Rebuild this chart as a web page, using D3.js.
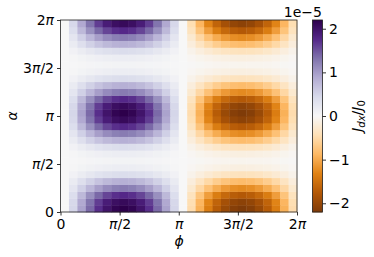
<!doctype html>
<html>
  <head>
    <meta charset="utf-8">
    <title>J_dx map</title>
    <script src="https://d3js.org/d3.v7.min.js"></script>
    <style>
      html, body { margin: 0; padding: 0; background: #fff; }
      svg { display: block; }
      text { font-family: "DejaVu Sans", sans-serif; fill: #000; }
    </style>
  </head>
  <body>
  <div id="chart"></div>
  <script>
    // the map reads as a phi profile times an alpha profile, so both were read off the picture
    // value along phi at the strongest alpha row, in units of 1e-5
    var phiValues = [0, .48, .94, 1.37, 1.72, 1.98, 2.14, 2.2, 2.14, 1.98, 1.72, 1.37, .94, .48,
                     0, -.48, -.94, -1.37, -1.72, -1.98, -2.14, -2.2, -2.14, -1.98, -1.72, -1.37, -.94, -.48];
    // share of that value per alpha row, bottom row first
    var alphaShare = [1, .95, .8, .57, .38, .18, .07, .03, .07, .18, .38, .57, .8, .95,
                      1, .95, .8, .57, .38, .18, .07, .03, .07, .18, .38, .57, .8, .95];
    var angleTicks = [0, .5, 1, 1.5, 2];
    var angleLabels = ["0", "π/2", "π", "3π/2", "2π"];
    var barTicks = [-2, -1, 0, 1, 2];
    var barLabels = ["−2", "−1", "0", "1", "2"];
    var puOr = ["#7f3b08","#b35806","#e08214","#fdb863","#fee0b6","#f7f7f7","#d8daeb","#b2abd2","#8073ac","#542788","#2d004b"];

    var plotLeft = 60.5, plotRight = 297, plotTop = 20, plotBottom = 212;
    var barLeft = 312.5, barRight = 322.5, limit = 2.2, fontSize = 14;

    var svg = d3.select("#chart").append("svg").attr("width", 374).attr("height", 257);

    var x = d3.scaleBand().domain(d3.range(phiValues.length)).range([plotLeft, plotRight]);
    var y = d3.scaleBand().domain(d3.range(alphaShare.length)).range([plotBottom, plotTop]);
    var xAngle = d3.scaleLinear().domain([0, 2]).range([plotLeft, plotRight]);
    var yAngle = d3.scaleLinear().domain([0, 2]).range([plotBottom, plotTop]);
    var yBar = d3.scaleLinear().domain([-limit, limit]).range([plotBottom, plotTop]);
    var color = d3.scaleLinear()
      .domain(puOr.map(function(d, i){ return -limit + i * 2 * limit / (puOr.length - 1); }))
      .range(puOr);

    // cells
    alphaShare.forEach(function(share, row){
      svg.append("g").selectAll("rect")
        .data(phiValues)
        .enter().append("rect")
          .attr("x", function(d, i){ return x(i); })
          .attr("y", y(row))
          .attr("width", x.bandwidth() + .4)
          .attr("height", y.bandwidth() + .4)
          .attr("fill", function(d){ return color(d * share); });
    });

    // colorbar
    var barSteps = d3.range(0, 192);
    svg.append("g").selectAll("rect")
      .data(barSteps)
      .enter().append("rect")
        .attr("x", barLeft)
        .attr("y", function(d){ return plotTop + d; })
        .attr("width", barRight - barLeft)
        .attr("height", 1.4)
        .attr("fill", function(d){ return color(yBar.invert(plotTop + d + .5)); });

    function mathLabel(sel, labels){
      sel.selectAll(".tick text").each(function(d, i){
        var t = d3.select(this).text(null);
        labels[i].split(/(π)/).forEach(function(part){
          if (!part) return;
          t.append("tspan").style("font-style", part == "π" ? "italic" : "normal").text(part);
        });
      });
    }

    function styleAxis(g){
      g.select(".domain").remove();
      g.selectAll(".tick line").attr("stroke", "#000").attr("stroke-width", .8);
      g.selectAll(".tick text").attr("font-size", fontSize).attr("font-family", "DejaVu Sans");
    }

    var xAxis = svg.append("g")
      .attr("transform", "translate(0," + plotBottom + ")")
      .call(d3.axisBottom(xAngle).tickValues(angleTicks).tickSize(3.5).tickPadding(3.5).tickFormat(function(d, i){ return angleLabels[i]; }))
      .call(styleAxis)
      .call(mathLabel, angleLabels);

    var yAxis = svg.append("g")
      .attr("transform", "translate(" + plotLeft + ",0)")
      .call(d3.axisLeft(yAngle).tickValues(angleTicks).tickSize(3.5).tickPadding(3).tickFormat(function(d, i){ return angleLabels[i]; }))
      .call(styleAxis)
      .call(mathLabel, angleLabels);

    var barAxis = svg.append("g")
      .attr("transform", "translate(" + barRight + ",0)")
      .call(d3.axisRight(yBar).tickValues(barTicks).tickSize(3.5).tickPadding(3).tickFormat(function(d, i){ return barLabels[i]; }))
      .call(styleAxis);

    // frames
    svg.append("rect").attr("x", plotLeft).attr("y", plotTop).attr("width", plotRight - plotLeft).attr("height", plotBottom - plotTop)
      .attr("fill", "none").attr("stroke", "#222").attr("stroke-width", .8);
    svg.append("rect").attr("x", barLeft).attr("y", plotTop).attr("width", barRight - barLeft).attr("height", plotBottom - plotTop)
      .attr("fill", "none").attr("stroke", "#222").attr("stroke-width", .8);

    // labels
    svg.append("text").attr("x", 179).attr("y", 246).attr("text-anchor", "middle")
      .attr("font-size", fontSize).style("font-style", "italic").text("ϕ");
    svg.append("text").attr("transform", "translate(17,116) rotate(-90)").attr("text-anchor", "middle")
      .attr("font-size", fontSize).style("font-style", "italic").text("α");
    svg.append("text").attr("x", 322).attr("y", 17).attr("text-anchor", "end")
      .attr("font-size", fontSize).text("1e−5");

    var barLabel = svg.append("text").attr("transform", "translate(362,116) rotate(-90)").attr("text-anchor", "middle")
      .attr("font-size", fontSize).style("font-style", "italic");
    barLabel.append("tspan").text("J");
    barLabel.append("tspan").attr("font-size", 10).attr("dy", 3).text("dx");
    barLabel.append("tspan").attr("dy", -3).style("font-style", "normal").text("/");
    barLabel.append("tspan").text("J");
    barLabel.append("tspan").attr("font-size", 10).attr("dy", 3).style("font-style", "normal").text("0");
  </script>
  </body>
</html>
